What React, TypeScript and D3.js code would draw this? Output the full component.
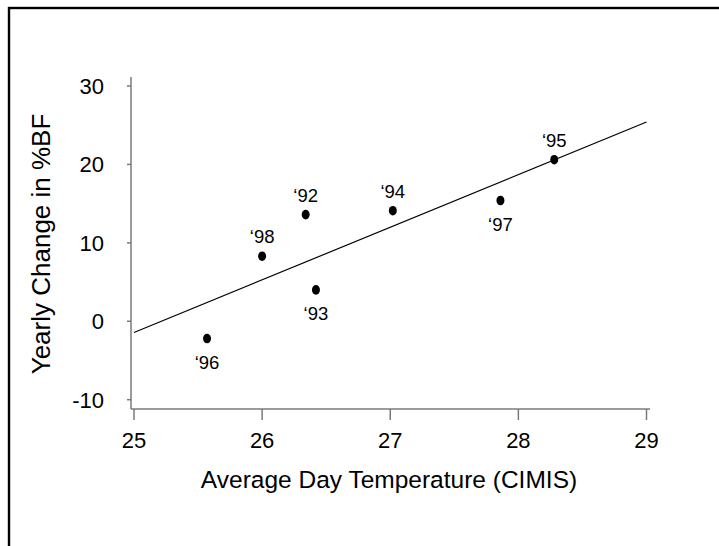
import { useEffect, useRef } from "react";
import * as d3 from "d3";

// Yearly data points (temperature vs change in %BF)
const years = ["‘92", "‘93", "‘94", "‘95", "‘96", "‘97", "‘98"];
const avgTemp = [26.34, 26.42, 27.02, 28.28, 25.57, 27.86, 26.0];
const changeBF = [13.6, 4.0, 14.1, 20.6, -2.2, 15.4, 8.3];
const labelSide = ["above", "below", "above", "above", "below", "below", "above"];

const xTicks = [25, 26, 27, 28, 29];
const yTicks = [-10, 0, 10, 20, 30];

const xTitle = "Average Day Temperature (CIMIS)";
const yTitle = "Yearly Change in %BF";

function App() {
  const ref = useRef<SVGSVGElement>(null);

  useEffect(() => {
    const svg = d3.select(ref.current);
    svg.selectAll("*").remove();

    const font = "'Liberation Sans', Arial, sans-serif";
    const axisColor = "#7a7a7a";

    const xScale = d3.scaleLinear([25, 29], [134, 646.5]);
    const yScale = d3.scaleLinear([-10, 30], [399.7, 86]);

    // outer frame (cut off at right / bottom like the original)
    svg
      .append("rect")
      .attr("x", 9)
      .attr("y", 8)
      .attr("width", 760)
      .attr("height", 600)
      .attr("fill", "white")
      .attr("stroke", "black")
      .attr("stroke-width", 2.4);

    // axis lines
    const xLeft = xScale.invert(131);
    const xRight = xScale.invert(650);
    const yBottom = yScale.invert(409);
    const yTop = yScale.invert(77);

    svg
      .append("line")
      .attr("x1", xScale(xLeft))
      .attr("x2", xScale(xLeft))
      .attr("y1", yScale(yTop))
      .attr("y2", yScale(yBottom))
      .attr("stroke", axisColor)
      .attr("stroke-width", 1.5);

    svg
      .append("line")
      .attr("x1", xScale(xLeft))
      .attr("x2", xScale(xRight))
      .attr("y1", yScale(yBottom))
      .attr("y2", yScale(yBottom))
      .attr("stroke", axisColor)
      .attr("stroke-width", 1.5);

    // y ticks + labels
    yTicks.forEach((t) => {
      svg
        .append("line")
        .attr("x1", xScale(xLeft) - 4)
        .attr("x2", xScale(xLeft))
        .attr("y1", yScale(t))
        .attr("y2", yScale(t))
        .attr("stroke", axisColor)
        .attr("stroke-width", 1.5);
      svg
        .append("text")
        .attr("x", 104)
        .attr("y", yScale(t))
        .attr("dy", "0.36em")
        .attr("text-anchor", "end")
        .attr("font-family", font)
        .attr("font-size", 22)
        .text(t);
    });

    // x ticks + labels
    xTicks.forEach((t) => {
      svg
        .append("line")
        .attr("x1", xScale(t))
        .attr("x2", xScale(t))
        .attr("y1", yScale(yBottom))
        .attr("y2", yScale(yBottom) + 11)
        .attr("stroke", axisColor)
        .attr("stroke-width", 1.5);
      svg
        .append("text")
        .attr("x", xScale(t))
        .attr("y", 448)
        .attr("text-anchor", "middle")
        .attr("font-family", font)
        .attr("font-size", 22)
        .text(t);
    });

    // least squares fit line
    const mx = d3.mean(avgTemp)!;
    const my = d3.mean(changeBF)!;
    const sxy = d3.sum(avgTemp, (x, i) => (x - mx) * (changeBF[i] - my));
    const sxx = d3.sum(avgTemp, (x) => (x - mx) ** 2);
    const slope = sxy / sxx;
    const fit = (x: number) => my + slope * (x - mx);
    const fitLine = d3
      .line<number>()
      .x((d) => xScale(d))
      .y((d) => yScale(fit(d)));

    svg
      .append("path")
      .attr("d", fitLine([xTicks[0], xTicks[xTicks.length - 1]]))
      .attr("stroke", "black")
      .attr("stroke-width", 1.2)
      .attr("fill", "none");

    // points
    svg
      .selectAll("ellipse.pt")
      .data(years)
      .enter()
      .append("ellipse")
      .attr("class", "pt")
      .attr("cx", (d, i) => xScale(avgTemp[i]))
      .attr("cy", (d, i) => yScale(changeBF[i]))
      .attr("rx", 4)
      .attr("ry", 4.8)
      .attr("fill", "black");

    // year labels
    svg
      .selectAll("text.yr")
      .data(years)
      .enter()
      .append("text")
      .attr("class", "yr")
      .attr("x", (d, i) => xScale(avgTemp[i]))
      .attr("y", (d, i) =>
        yScale(changeBF[i]) + (labelSide[i] === "above" ? -13 : 30)
      )
      .attr("text-anchor", "middle")
      .attr("font-family", font)
      .attr("font-size", 18.5)
      .text((d) => d);

    // axis titles
    svg
      .append("text")
      .attr("x", 389)
      .attr("y", 488)
      .attr("text-anchor", "middle")
      .attr("font-family", font)
      .attr("font-size", 24.5)
      .text(xTitle);

    svg
      .append("text")
      .attr("transform", "translate(50,244) rotate(-90)")
      .attr("text-anchor", "middle")
      .attr("font-family", font)
      .attr("font-size", 26)
      .text(yTitle);
  }, []);

  return (
    <svg
      ref={ref}
      width={719}
      height={546}
      style={{ position: "absolute", left: 0, top: 0 }}
    />
  );
}

export default App;
